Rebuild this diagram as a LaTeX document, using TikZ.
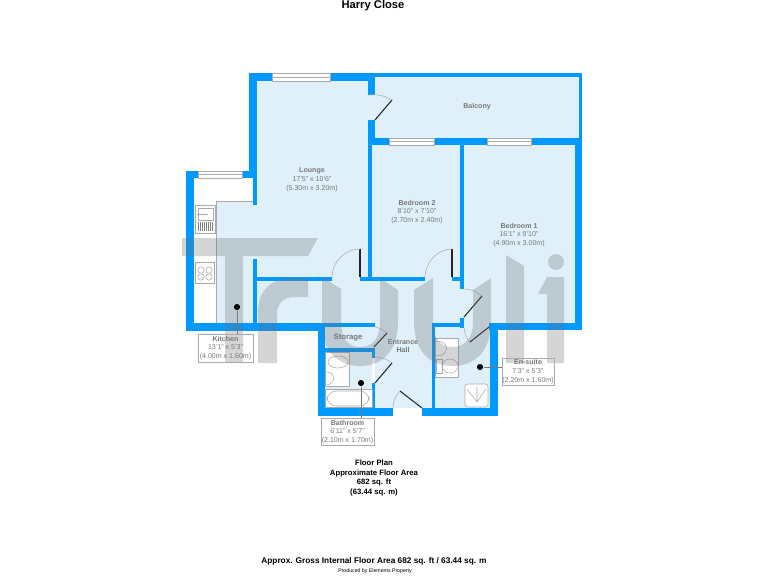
\documentclass[tikz,border=0pt]{standalone}
\usepackage{fontspec}
\setmainfont{Liberation Sans}
\definecolor{wallblue}{RGB}{0,153,255}
\definecolor{floorblue}{RGB}{223,240,251}
\definecolor{labelgray}{RGB}{120,120,120}
\definecolor{fixgray}{RGB}{170,170,170}
\tikzset{every picture/.style={line width=0.75pt}}
\tikzset{
  floorpart/.style={fill=floorblue,draw=none},
  wall/.style={fill=wallblue,draw=none},
  windowpane/.style={fill=white,draw=fixgray,line width=0.5pt},
  doorleaf/.style={draw=black!85,line width=0.8pt},
  doorswing/.style={draw=fixgray,line width=0.4pt},
  fixture/.style={draw=fixgray,line width=0.4pt},
  watermark/.style={fill=black!55,draw=none,opacity=0.3},
  roomtext/.style={text=labelgray,align=center,inner sep=0pt,font=\fontsize{5.3}{6.6}\selectfont},
  labelbox/.style={roomtext,draw=fixgray,line width=0.5pt},
  roomdot/.style={circle,fill=black,inner sep=0pt,minimum size=4.6pt},
  leader/.style={draw=labelgray,line width=0.4pt},
  plaintext/.style={text=black,align=center,inner sep=0pt,font=\fontsize{5.6}{7}\selectfont\bfseries}
}

\begin{document}
\begin{tikzpicture}[x=0.75pt,y=0.75pt,yscale=-1,xscale=1]
\useasboundingbox (0,0) rectangle (768,576);

%Floors
\path [floorpart] (257,81) rectangle (368,323);
\path [floorpart] (368,95) rectangle (375,120);
\path [floorpart] (375,77) rectangle (579,138);
\path [floorpart] (372,145) rectangle (460,281);
\path [floorpart] (464,145) rectangle (575,323);
\path [floorpart] (257,281) rectangle (464,323);
\path [floorpart] (464,323) rectangle (490,327);
\path [floorpart] (375,323) rectangle (432,408);
\path [floorpart] (432,327) rectangle (490,408);
\path [floorpart] (325,327) rectangle (375,348);
\path [floorpart] (325,352) rectangle (372,408);
\path [floorpart] (216,201) rectangle (257,323);
\draw [fixture] (216,323) -- (216,201) -- (253,201);

%Walls
\path [wall] (249,73) rectangle (375,81);
\path [wall] (375,73) rectangle (582,77);
\path [wall] (579,73) rectangle (582,138);
\path [wall] (575,138) rectangle (582,330);
\path [wall] (249,73) rectangle (257,178);
\path [wall] (253,172) rectangle (257,205);
\path [wall] (186,171) rectangle (257,178);
\path [wall] (186,171) rectangle (194,331);
\path [wall] (186,323) rectangle (325,331);
\path [wall] (253,259) rectangle (257,323);
\path [wall] (253,277) rectangle (332,281);
\path [wall] (360,277) rectangle (372,281);
\path [wall] (368,81) rectangle (375,95);
\path [wall] (368,120) rectangle (375,145);
\path [wall] (368,138) rectangle (582,145);
\path [wall] (368,138) rectangle (372,281);
\path [wall] (368,277) rectangle (425,281);
\path [wall] (452,277) rectangle (464,281);
\path [wall] (460,145) rectangle (464,289);
\path [wall] (460,318) rectangle (464,328);
\path [wall] (432,323) rectangle (464,327);
\path [wall] (432,323) rectangle (435,416);
\path [wall] (318,408) rectangle (393,416);
\path [wall] (422,408) rectangle (498,416);
\path [wall] (490,323) rectangle (498,416);
\path [wall] (489,323) rectangle (582,330);
\path [wall] (318,323) rectangle (325,416);
\path [wall] (318,323) rectangle (375,327);
\path [wall] (325,348) rectangle (375,352);
\path [wall] (372,348) rectangle (375,358);
\path [wall] (372,383) rectangle (375,408);

%Windows
\foreach \xa/\ya/\xb/\yb in {272/73/330/81,198/171/242/178,389/138/434/145,487/138/531/145}{
  \draw [windowpane] (\xa,\ya) rectangle (\xb,\yb);
  \draw [doorswing] (\xa,{(\ya+\yb)/2}) -- (\xb,{(\ya+\yb)/2});
}

%Doors
\draw [doorleaf] (375,120) -- (392,100);
\draw [doorswing] (368,95) .. controls (378,94) and (386,96) .. (392,100);
\draw [doorleaf] (360,277) -- (360,249);
\draw [doorswing] (332,277) .. controls (332,262) and (345,249) .. (360,249);
\draw [doorleaf] (452,277) -- (452,249);
\draw [doorswing] (425,277) .. controls (425,262) and (438,249) .. (452,249);
\draw [doorleaf] (464,317) -- (482,296);
\draw [doorswing] (464,289) .. controls (471,289) and (477,292) .. (482,296);
\draw [doorleaf] (489,327) -- (470,342);
\draw [doorswing] (464,328) .. controls (465,335) and (467,339) .. (470,342);
\draw [doorleaf] (374,347) -- (387,333);
\draw [doorswing] (375,327) .. controls (380,328) and (384,330) .. (387,333);
\draw [doorleaf] (375,383) -- (392,363);
\draw [doorswing] (375,357) .. controls (382,357) and (388,360) .. (392,363);
\draw [doorleaf] (422,408) -- (400,391);
\draw [doorswing] (393,408) .. controls (393,401) and (396,395) .. (400,391);

%Kitchen fittings
\draw [fixture,fill=white] (195,205) rectangle (215,233);
\draw [fixture] (198,208) rectangle (213,220);
\draw [fixture] (197,214) -- (208,214);
\foreach \xa in {198,200,...,212}{
  \draw [fixture,line width=0.65pt,draw=black!50] (\xa,222) -- (\xa,231);
}
\draw [fixture,fill=white] (195,262) rectangle (214,283);
\foreach \xa/\ya in {201/270,209/270,201/277,209/277}{
  \draw [fixture] (\xa,\ya) circle (3.2);
}

%Bathroom fittings
\draw [fixture,fill=white] (325,352) rectangle (349,386);
\draw [fixture] (338,362) ellipse (10 and 6);
\draw [fixture] (326,372) .. controls (336,371) and (336,385) .. (326,385);
\draw [fixture,fill=white] (325,389) rectangle (372,407);
\draw [fixture,rounded corners=7] (327,391) rectangle (369,406);

%En-suite fittings
\draw [fixture,fill=white] (435,338) rectangle (458,377);
\draw [fixture] (436,341) .. controls (450,341) and (450,356) .. (436,356);
\draw [fixture] (450,366) ellipse (8 and 7);
\draw [fixture] (436,359) rectangle (442,373);
\draw [fixture,fill=white,rounded corners=2] (465,384) rectangle (488,407);
\draw [fixture] (477,387) -- (477,402) (467,389) -- (477,402) -- (486,389);

%Logo
\path [watermark] (182,238) -- (318,238) -- (308,256) -- (243,256) -- (243,363) -- (225,363) -- (225,256) -- (182,256) -- cycle;
\path [watermark] (258,363) -- (258,312) .. controls (258,290) and (272,278) .. (292,278) -- (308,278) -- (308,297) -- (295,297) .. controls (284,297) and (277,303) .. (277,314) -- (277,363) -- cycle;
\path [watermark] (322,277) -- (341,289) -- (341,322) .. controls (341,338) and (348,347) .. (360,347) .. controls (373,347) and (380,338) .. (380,322) -- (380,278) -- (398,290) -- (398,322) .. controls (398,350) and (383,366) .. (360,366) .. controls (337,366) and (322,350) .. (322,322) -- cycle;
\path [watermark] (433,278) -- (433,322) .. controls (433,338) and (440,347) .. (452,347) .. controls (465,347) and (473,338) .. (473,322) -- (473,290) -- (491,278) -- (491,322) .. controls (491,350) and (476,366) .. (452,366) .. controls (429,366) and (414,350) .. (414,322) -- (414,290) -- cycle;
\path [watermark] (506,255) -- (524,266) -- (524,363) -- (506,363) -- cycle;
\path [watermark] (538,294) -- (547,277) -- (564,277) -- (564,363) -- (547,363) -- (547,294) -- cycle;
\path [watermark] (556,262) circle (8);

% Text Node
\draw (373,6) node (title) [plaintext,font=\fontsize{8.4}{10}\selectfont\bfseries] {Harry Close};
% Text Node
\draw (312,180) node (lounge) [roomtext] {\textbf{Lounge}\\17'5" x 10'6"\\(5.30m x 3.20m)};
% Text Node
\draw (477,107) node (balcony) [roomtext] {\textbf{Balcony}};
% Text Node
\draw (417,212) node (bedtwo) [roomtext] {\textbf{Bedroom 2}\\8'10" x 7'10"\\(2.70m x 2.40m)};
% Text Node
\draw (519,235) node (bedone) [roomtext] {\textbf{Bedroom 1}\\16'1" x 9'10"\\(4.90m x 3.00m)};
% Text Node
\draw (348,338) node (storage) [roomtext,font=\fontsize{5.8}{7}\selectfont\bfseries] {Storage};
% Text Node
\draw (403,346) node (hall) [roomtext] {\textbf{Entrance}\\\textbf{Hall}};

%Kitchen label
\draw (225.5,348) node (kitchenlabel) [labelbox,minimum width=41pt,minimum height=21pt] {\textbf{Kitchen}\\13'1" x 5'3"\\(4.00m x 1.60m)};
\node (kitchendot) [roomdot] at (237,307) {};
\draw [leader] (kitchendot) -- (kitchendot |- kitchenlabel.north);
%Bathroom label
\draw (347.5,432) node (bathlabel) [labelbox,minimum width=40pt,minimum height=20pt] {\textbf{Bathroom}\\6'11" x 5'7"\\(2.10m x 1.70m)};
\node (bathdot) [roomdot] at (361,383) {};
\draw [leader] (bathdot) -- (bathdot |- bathlabel.north);
%En-suite label
\draw (528,371.5) node (suitelabel) [labelbox,minimum width=39pt,minimum height=20pt] {\textbf{En-suite}\\7'3" x 5'3"\\(2.20m x 1.60m)};
\node (suitedot) [roomdot] at (480,367) {};
\draw [leader] (suitedot) -- (suitedot -| suitelabel.west);

% Text Node
\draw (374,478) node (areanote) [plaintext,font=\fontsize{5.8}{7.05}\selectfont\bfseries] {Floor Plan\\Approximate Floor Area\\682 sq. ft\\(63.44 sq. m)};
% Text Node
\draw (374,561) node (grossarea) [plaintext,font=\fontsize{6.2}{8}\selectfont\bfseries] {Approx. Gross Internal Floor Area 682 sq. ft / 63.44 sq. m};
% Text Node
\draw (375,571) node (producer) [plaintext,font=\fontsize{3.9}{5}\selectfont] {Produced by Elements Property};

\end{tikzpicture}
\end{document}
